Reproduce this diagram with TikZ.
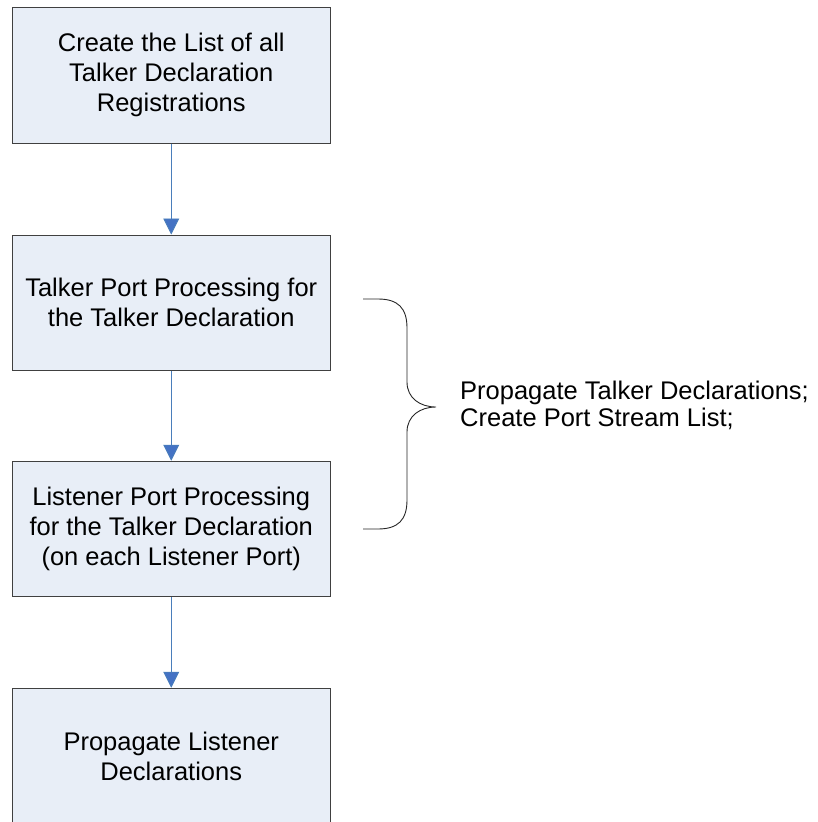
\documentclass[tikz,border=0pt]{standalone}
\usepackage{fontspec}
\setmainfont{Liberation Sans}
\usetikzlibrary{arrows.meta}
\definecolor{boxfill}{RGB}{232,238,247}
\definecolor{boxline}{RGB}{64,64,64}
\definecolor{flowline}{RGB}{74,126,187}
\definecolor{flowhead}{RGB}{68,114,196}
\tikzset{
  stepbox/.style={draw=boxline, line width=1pt, fill=boxfill, inner sep=0pt,
    minimum width=317.5pt, minimum height=135.5pt, align=center,
    font=\fontsize{25.5pt}{30pt}\selectfont},
  flow/.style={draw=flowline, line width=0.9pt,
    -{Triangle[width=16pt,length=16pt,fill=flowhead]}},
  bracel/.style={draw=black!85, line width=0.9pt},
  note/.style={align=left, anchor=west, inner sep=0pt,
    font=\fontsize{25.5pt}{27pt}\selectfont}
}
\begin{document}
\begin{tikzpicture}[x=1pt,y=-1pt]
\useasboundingbox (0,0) rectangle (818,822);
\begin{scope}
\clip (0,0) rectangle (818,822);
\node[stepbox] (list) at (171.25,75.25) {Create the List of all\\Talker Declaration\\Registrations};
\node[stepbox] (talker) at (171.25,302.75) {Talker Port Processing for\\the Talker Declaration};
\node[stepbox] (listener) at (171.25,529) {Listener Port Processing\\for the Talker Declaration\\(on each Listener Port)};
\node[stepbox] (prop) at (171.25,756) {Propagate Listener\\Declarations};
\end{scope}
\draw[flow] (list.south) -- (talker.north);
\draw[flow] (talker.south) -- (listener.north);
\draw[flow] (listener.south) -- (prop.north);
% curly brace spanning the two port-processing steps
\coordinate (btop) at (363,299);
\coordinate (btip) at (436,407);
\coordinate (bbot) at (363,529);
\draw[bracel] (btop) -- (378,299)
  .. controls (398,299) and (407,308) .. (407,328)
  -- (407,382)
  .. controls (407,398) and (420,407) .. (btip)
  .. controls (420,407) and (407,416) .. (407,432)
  -- (407,500)
  .. controls (407,520) and (398,529) .. (378,529)
  -- (bbot);
\node[note] (notes) at (460,405.5) {Propagate Talker Declarations;\\Create Port Stream List;};
\end{tikzpicture}
\end{document}
